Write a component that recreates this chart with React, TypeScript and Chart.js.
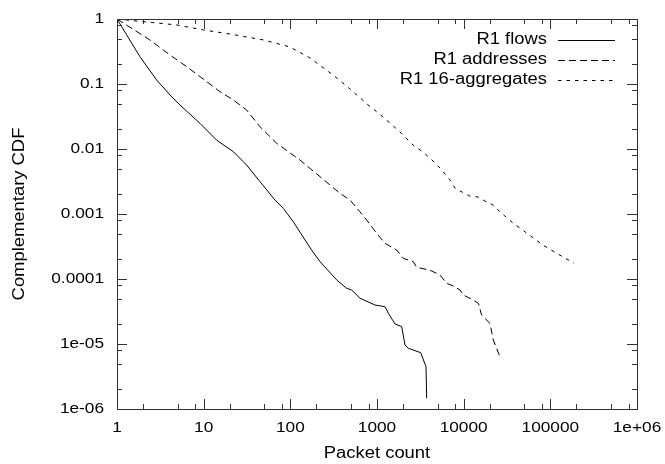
import React, { useEffect, useRef } from "react";
import { Chart, registerables } from "chart.js";

Chart.register(...registerables);

const seriesNames = ["R1 flows", "R1 addresses", "R1 16-aggregates"];

const flowsX = [1, 1.84, 2.87, 4.09, 5.33, 9.07, 14.1, 22, 31.3, 44.7, 66.5, 83, 108, 176, 220, 343, 447, 511, 637, 948, 1237, 1352, 1614, 1927, 2104, 2297, 3192, 3675, 3745];
const flowsY = [1, 0.263, 0.115, 0.0677, 0.0475, 0.0248, 0.0137, 0.00908, 0.00567, 0.00314, 0.00164, 0.00122, 0.000762, 0.000279, 0.000185, 9.66e-5, 7.19e-5, 6.77e-5, 5.05e-5, 3.98e-5, 3.75e-5, 2.97e-5, 2.03e-5, 1.85e-5, 9.66e-6, 8.6e-6, 7.35e-6, 4.48e-6, 1.46e-6];

const addrX = [1, 2.4, 4.09, 6.37, 9.07, 15.4, 22, 31.3, 44.7, 69.6, 129, 220, 374, 488, 637, 760, 991, 1237, 1687, 2010, 2624, 2870, 4085, 5333, 6370, 7590, 9070, 9900, 12900, 14800, 16100, 20100, 22000, 26200];
const addrY = [1, 0.475, 0.279, 0.185, 0.13, 0.0762, 0.0567, 0.0398, 0.022, 0.01224, 0.00677, 0.00375, 0.00208, 0.00164, 0.00108, 0.000809, 0.000505, 0.000354, 0.000279, 0.000208, 0.000185, 0.000151, 0.000137, 0.000115, 8.59e-5, 7.8e-5, 6.77e-5, 5.67e-5, 4.75e-5, 4.23e-5, 2.79e-5, 2.08e-5, 1.15e-5, 6.38e-6];

const aggX = [1, 2.03, 4.92, 10, 20.1, 49.3, 99, 169, 311, 488, 767, 1173, 1842, 2600, 3395, 4430, 5333, 6950, 7940, 9570, 11800, 14600, 17600, 21800, 26200, 37100, 55200, 82200, 122500, 187500];
const aggY = [1, 0.909, 0.809, 0.677, 0.588, 0.475, 0.371, 0.251, 0.1375, 0.0838, 0.0492, 0.0311, 0.0183, 0.01153, 0.009, 0.00654, 0.0051, 0.00334, 0.00251, 0.00218, 0.00189, 0.00183, 0.00158, 0.00138, 0.00108, 0.000727, 0.000492, 0.000333, 0.000242, 0.000175];

const xTickValues = [1, 10, 100, 1000, 10000, 100000, 1000000];
const xTickLabels = ["1", "10", "100", "1000", "10000", "100000", "1e+06"];
const yTickValues = [1, 0.1, 0.01, 0.001, 0.0001, 0.00001, 0.000001];
const yTickLabels = ["1", "0.1", "0.01", "0.001", "0.0001", "1e-05", "1e-06"];
const minorFactors = [2, 5, 8];

const xTitle = "Packet count";
const yTitle = "Complementary CDF";

const dashes = [[], [7, 4], [3.5, 5]];

function zip(xs: number[], ys: number[]) {
  return xs.map((x, i) => ({ x, y: ys[i] }));
}

const STRETCH = 1.15;

function drawText(ctx: CanvasRenderingContext2D, s: string, x: number, y: number, align: CanvasTextAlign, size: number, rotate = false) {
  ctx.save();
  ctx.translate(x, y);
  if (rotate) ctx.rotate(-Math.PI / 2);
  ctx.scale(STRETCH, 1);
  ctx.font = `${size}px "Liberation Sans", Arial, sans-serif`;
  ctx.fillStyle = "#000";
  ctx.textAlign = align;
  ctx.textBaseline = "middle";
  ctx.fillText(s, 0, 0);
  ctx.restore();
}

const framePlugin = {
  id: "gnuframe",
  afterDraw(chart: any) {
    const ctx: CanvasRenderingContext2D = chart.ctx;
    const { left, right, top, bottom } = chart.chartArea;
    const xs = chart.scales.x;
    const ys = chart.scales.y;
    ctx.save();
    ctx.strokeStyle = "#333";
    ctx.lineWidth = 1;
    ctx.setLineDash([]);
    ctx.strokeRect(Math.round(left) + 0.5, Math.round(top) + 0.5, Math.round(right - left), Math.round(bottom - top));
    ctx.beginPath();
    const major = 10, minor = 5;
    // x ticks
    xTickValues.forEach((v, i) => {
      const px = Math.round(xs.getPixelForValue(v)) + 0.5;
      ctx.moveTo(px, bottom); ctx.lineTo(px, bottom - major);
      ctx.moveTo(px, top); ctx.lineTo(px, top + major);
      if (i < xTickValues.length - 1) {
        minorFactors.forEach((f) => {
          const mx = Math.round(xs.getPixelForValue(v * f)) + 0.5;
          ctx.moveTo(mx, bottom); ctx.lineTo(mx, bottom - minor);
          ctx.moveTo(mx, top); ctx.lineTo(mx, top + minor);
        });
      }
    });
    yTickValues.forEach((v, i) => {
      const py = Math.round(ys.getPixelForValue(v)) + 0.5;
      ctx.moveTo(left, py); ctx.lineTo(left + major, py);
      ctx.moveTo(right, py); ctx.lineTo(right - major, py);
      if (i < yTickValues.length - 1) {
        minorFactors.forEach((f) => {
          const my = Math.round(ys.getPixelForValue(v / 10 * f)) + 0.5;
          ctx.moveTo(left, my); ctx.lineTo(left + minor, my);
          ctx.moveTo(right, my); ctx.lineTo(right - minor, my);
        });
      }
    });
    ctx.stroke();
    ctx.restore();

    // tick labels
    xTickValues.forEach((v, i) => {
      drawText(ctx, xTickLabels[i], xs.getPixelForValue(v), 428, "center", 15);
    });
    yTickValues.forEach((v, i) => {
      drawText(ctx, yTickLabels[i], left - 13, ys.getPixelForValue(v), "right", 15);
    });
    drawText(ctx, xTitle, (left + right) / 2, 454, "center", 16);
    drawText(ctx, yTitle, 20, (top + bottom) / 2, "center", 16, true);

    // legend
    chart.data.datasets.forEach((ds: any, i: number) => {
      const y = 40 + i * 20;
      drawText(ctx, ds.label, 547, y, "right", 16);
      ctx.save();
      ctx.strokeStyle = "#000";
      ctx.lineWidth = 1;
      ctx.setLineDash(ds.borderDash || []);
      ctx.beginPath();
      ctx.moveTo(558, y + 0.5);
      ctx.lineTo(615, y + 0.5);
      ctx.stroke();
      ctx.restore();
    });
  },
};

export default function App() {
  const ref = useRef<HTMLCanvasElement>(null);
  useEffect(() => {
    document.body.style.margin = "0";
    const canvas = ref.current!;
    const series = [zip(flowsX, flowsY), zip(addrX, addrY), zip(aggX, aggY)];
    const chart = new Chart(canvas, {
      type: "line",
      data: {
        datasets: series.map((d, i) => ({
          label: seriesNames[i],
          data: d,
          borderColor: "#000",
          borderWidth: 1,
          borderDash: dashes[i],
          pointRadius: 0,
          tension: 0,
          fill: false,
        })),
      },
      options: {
        animation: false,
        responsive: false,
        parsing: true,
        layout: { padding: { left: 117, top: 19, right: 28, bottom: 55 } },
        plugins: { legend: { display: false }, tooltip: { enabled: false } },
        scales: {
          x: { type: "logarithmic", min: 1, max: 1000000, display: false },
          y: { type: "logarithmic", min: 0.000001, max: 1, display: false },
        },
      },
      plugins: [framePlugin],
    });
    return () => chart.destroy();
  }, []);
  return (
    <div style={{ width: 665, height: 464, background: "#fff" }}>
      <canvas ref={ref} width={665} height={464} style={{ display: "block" }} />
    </div>
  );
}
